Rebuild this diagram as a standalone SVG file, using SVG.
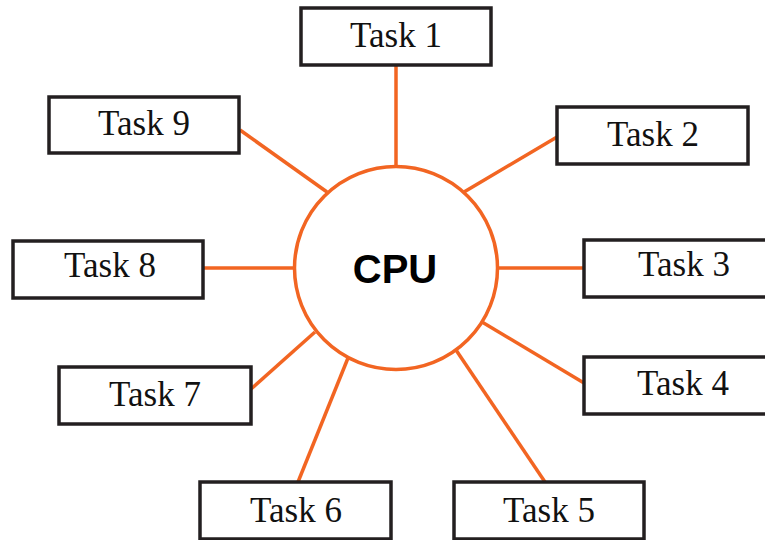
<svg xmlns="http://www.w3.org/2000/svg" width="765" height="540" viewBox="0 0 765 540">
<style>
.box{fill:#fff;stroke:#231f20;stroke-width:3.5}
.lbl{font-family:"Liberation Serif","Times New Roman",serif;font-size:35px;fill:#111;text-anchor:middle}
.conn{stroke:#f26522;stroke-width:3.5;fill:none;stroke-linecap:butt}
.cpu{fill:#fff;stroke:#f26522;stroke-width:3.5}
.cpulbl{font-family:"Liberation Sans",Arial,sans-serif;font-size:40px;font-weight:bold;fill:#000;text-anchor:middle}
</style>
<rect width="765" height="540" fill="#fff"/>
<g id="connectors">
<line class="conn" x1="396" y1="65" x2="396" y2="167"/>
<line class="conn" x1="557" y1="137" x2="464" y2="192"/>
<line class="conn" x1="584" y1="268" x2="497" y2="268"/>
<line class="conn" x1="584" y1="383" x2="482" y2="322"/>
<line class="conn" x1="545" y1="482" x2="456" y2="350"/>
<line class="conn" x1="298" y1="482" x2="348" y2="358"/>
<line class="conn" x1="251" y1="389" x2="315" y2="332"/>
<line class="conn" x1="204" y1="268" x2="294" y2="268"/>
<line class="conn" x1="240" y1="130" x2="327" y2="192"/>
</g>
<g id="cpu">
<circle class="cpu" cx="396" cy="268" r="101.5"/>
<text class="cpulbl" x="395" y="283">CPU</text>
</g>
<g id="task1"><rect class="box" x="301" y="8" width="190" height="57"/><text class="lbl" x="396" y="47">Task 1</text></g>
<g id="task2"><rect class="box" x="557" y="107" width="191" height="57"/><text class="lbl" x="653" y="146">Task 2</text></g>
<g id="task3"><rect class="box" x="584" y="240" width="200" height="57"/><text class="lbl" x="684" y="276">Task 3</text></g>
<g id="task4"><rect class="box" x="584" y="357" width="200" height="57"/><text class="lbl" x="683" y="395">Task 4</text></g>
<g id="task5"><rect class="box" x="454" y="482" width="190" height="57"/><text class="lbl" x="549" y="522">Task 5</text></g>
<g id="task6"><rect class="box" x="200" y="482" width="191" height="57"/><text class="lbl" x="296" y="522">Task 6</text></g>
<g id="task7"><rect class="box" x="59" y="367" width="192" height="57"/><text class="lbl" x="155" y="406">Task 7</text></g>
<g id="task8"><rect class="box" x="13" y="241" width="190" height="57"/><text class="lbl" x="110" y="277">Task 8</text></g>
<g id="task9"><rect class="box" x="49" y="97" width="190" height="56"/><text class="lbl" x="144" y="135">Task 9</text></g>
</svg>
